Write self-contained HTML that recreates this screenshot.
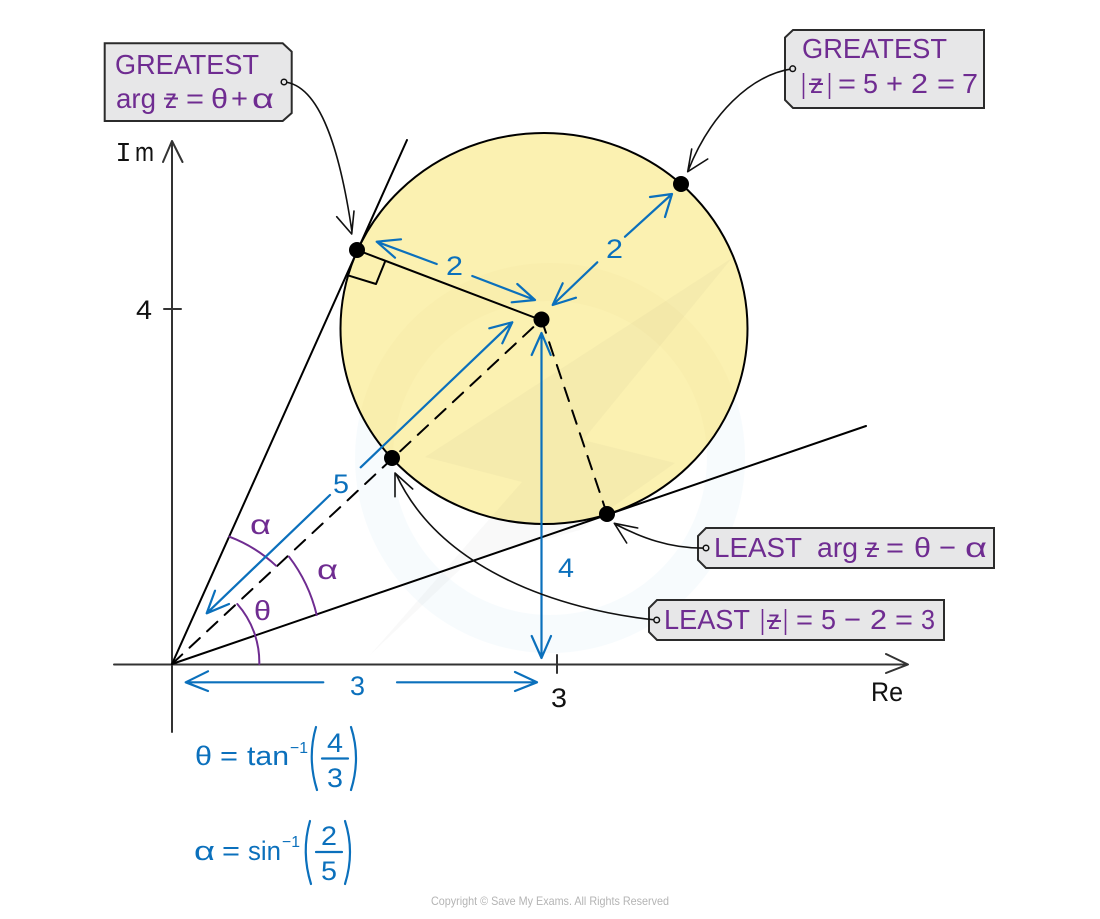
<!DOCTYPE html>
<html lang="en">
<head>
<meta charset="utf-8">
<title>Greatest and least modulus and argument</title>
<style>
html,body{margin:0;padding:0;background:#fff}
svg{display:block}
text{font-family:"Liberation Sans","DejaVu Sans",sans-serif}
.k{fill:#111;font-size:27px}
.p text,.p{fill:#6f2c91}
.b text,.b{fill:#0b70bc}
.p text{font-size:28px}
.b text{font-size:27px}
.tag{fill:#e7e7e8;stroke:#2b2b2b;stroke-width:2}
.ln{fill:none;stroke:#000;stroke-width:2;stroke-linecap:round;stroke-linejoin:round}
.th{fill:none;stroke:#111;stroke-width:1.6;stroke-linecap:round;stroke-linejoin:round}
.ax{fill:none;stroke:#333;stroke-width:2;stroke-linecap:round;stroke-linejoin:round}
.bl{fill:none;stroke:#0b70bc;stroke-width:2.2;stroke-linecap:round;stroke-linejoin:round}
.pu{fill:none;stroke:#6f2c91;stroke-width:2;stroke-linecap:round}
.st{stroke:#6f2c91;stroke-width:2;fill:none}
.h{fill:#e7e7e8;stroke:#111;stroke-width:1.5}
</style>
</head>
<body>
<svg width="1100" height="919" viewBox="0 0 1100 919" xmlns="http://www.w3.org/2000/svg">
<defs>
<clipPath id="inCircle"><ellipse cx="544" cy="328.500" rx="203.500" ry="195.500"/></clipPath>
</defs>
<rect width="1100" height="919" fill="#fff"/>

<!-- watermark below the circle -->
<path fill-rule="evenodd" fill="#cfe6f5" fill-opacity=".17" d="M550 263a195 195 0 1 0 .1 0zM550 301a157 157 0 1 1-.1 0z"/>

<!-- circle -->
<ellipse cx="544" cy="328.500" rx="203.500" ry="195.500" fill="#fbf1b1"/>

<!-- watermark over the circle -->
<path clip-path="url(#inCircle)" fill-rule="evenodd" fill="#b9a860" fill-opacity=".035" d="M550 263a195 195 0 1 0 .1 0zM550 301a157 157 0 1 1-.1 0z"/>
<path fill="#555" fill-opacity=".035" d="M425 457L732 258L583 440L675 463L580 530L470 560L370 655L522 482Z"/>

<ellipse cx="544" cy="328.500" rx="203.500" ry="195.500" fill="none" stroke="#000" stroke-width="2"/>

<!-- axes -->
<path class="ax" d="M172 732V141M163 162L172 141L182.500 162"/>
<path class="ax" d="M114 664.500H907M886 654L908 664.500L886 673"/>
<path class="ax" d="M164 309H181M557 655V673"/>

<!-- tangents and radii -->
<path class="ln" d="M172 664L407 140M172 664L866 426M357 250L541 320M385 261.700L376 284L349 275.700"/>
<path class="ln" stroke-dasharray="14 10" d="M172 664L541.500 319.500"/>
<path class="ln" stroke-dasharray="14 10" d="M541.500 319.500L607 514"/>

<!-- purple angle arcs -->
<path class="pu" d="M259.300 664A88 88 0 0 0 237.300 604M316.700 615A155 155 0 0 0 289 556.700M229.300 536.700A141 141 0 0 1 276 565.700"/>

<!-- blue arrows -->
<path class="bl" d="M436.700 264L376.700 241.700M401 239.300L376.700 241.700L395 257.700"/>
<path class="bl" d="M472.300 276L535 300M517.300 284L535 300L511.700 302.300"/>
<path class="bl" d="M597.300 262.300L552.700 305M562.700 283.300L552.700 305L576 297.700"/>
<path class="bl" d="M625 236.700L672 194M650 197L672 194L665 217"/>
<path class="bl" d="M360.700 467.300L512.300 322.300M489.300 328.300L512.300 322.300L502.300 343.300"/>
<path class="bl" d="M330 495L206.700 613.300M215 590.700L206.700 613.300L229 604"/>
<path class="bl" d="M541.500 658V333M531.700 355L541.500 333L550.700 355M531.700 636L541.500 658L551 636"/>
<path class="bl" d="M323.300 682.300H185.700M208 671.300L185.700 682.300L208 691"/>
<path class="bl" d="M397 682.300H537M515 672L537 682.300L515 691"/>

<!-- parentheses and fractions -->
<path class="bl" d="M316 727Q307 758 317 790M351 727Q361 758 351 790M322 758.500H348"/>
<path class="bl" d="M310 821Q301 852 311 884M345 821Q355 852 345 884M316 852H342"/>

<!-- tags -->
<path class="tag" d="M104.700 43.300H282.700L291.700 51.700V113L282.700 121H104.700Z"/>
<path class="tag" d="M793 30H984V108H793L785 100V37.500Z"/>
<path class="tag" d="M706 528H994V568H706L698 560V536Z"/>
<path class="tag" d="M657 600H944V640H657L649 632V608Z"/>

<!-- connectors -->
<path class="th" d="M284 82C320 85 340 150 352 232M336.700 216.700L351.700 234L354 211"/>
<path class="th" d="M792.700 68.700C750 75 710 115 688 171M691.700 149L687.700 171.700L707.700 159"/>
<path class="th" d="M706 548C670 549 640 537 615 524M637.700 528L614.300 523.300L626.700 543"/>
<path class="th" d="M656 620C560 610 440 570 396 474M412.700 489L395 473L395 496.700"/>
<circle class="h" cx="284" cy="82" r="2.800"/>
<circle class="h" cx="792.700" cy="68.700" r="2.800"/>
<circle class="h" cx="706" cy="548" r="2.800"/>
<circle class="h" cx="656.700" cy="620" r="2.800"/>

<!-- points -->
<circle cx="357" cy="250" r="8"/>
<circle cx="681" cy="184" r="8"/>
<circle cx="541.500" cy="319.500" r="8"/>
<circle cx="392" cy="458" r="8"/>
<circle cx="607" cy="514" r="8"/>

<!-- black labels -->
<text class="k" x="115.500" y="161" textLength="16" lengthAdjust="spacingAndGlyphs" style="font-family:'Liberation Mono',monospace">I</text>
<text class="k" x="135" y="161" textLength="19" lengthAdjust="spacingAndGlyphs">m</text>
<text class="k" x="136" y="319" textLength="16" lengthAdjust="spacingAndGlyphs">4</text>
<text class="k" x="551" y="707" textLength="16" lengthAdjust="spacingAndGlyphs">3</text>
<text class="k" x="871" y="701" textLength="32" lengthAdjust="spacingAndGlyphs">Re</text>

<!-- purple tag text -->
<g class="p">
<text x="115" y="74" textLength="144" lengthAdjust="spacingAndGlyphs">GREATEST</text>
<text x="116" y="108" textLength="40" lengthAdjust="spacingAndGlyphs">arg</text>
<text x="165" y="108" textLength="12" lengthAdjust="spacingAndGlyphs">z</text>
<text x="186" y="108" textLength="18" lengthAdjust="spacingAndGlyphs">=</text>
<text x="211" y="108" textLength="17" lengthAdjust="spacingAndGlyphs">θ</text>
<text x="231" y="108" textLength="17" lengthAdjust="spacingAndGlyphs">+</text>
<text x="252" y="108" textLength="22" lengthAdjust="spacingAndGlyphs">α</text>

<text x="802" y="58" textLength="145" lengthAdjust="spacingAndGlyphs">GREATEST</text>
<text x="801" y="93" textLength="5" lengthAdjust="spacingAndGlyphs">|</text>
<text x="810" y="93" textLength="13" lengthAdjust="spacingAndGlyphs">z</text>
<text x="827" y="93" textLength="5" lengthAdjust="spacingAndGlyphs">|</text>
<text x="838" y="93" textLength="18" lengthAdjust="spacingAndGlyphs">=</text>
<text x="863" y="93" textLength="15" lengthAdjust="spacingAndGlyphs">5</text>
<text x="886" y="93" textLength="17" lengthAdjust="spacingAndGlyphs">+</text>
<text x="911" y="93" textLength="17" lengthAdjust="spacingAndGlyphs">2</text>
<text x="937" y="93" textLength="18" lengthAdjust="spacingAndGlyphs">=</text>
<text x="962" y="93" textLength="16" lengthAdjust="spacingAndGlyphs">7</text>

<text x="714" y="557" textLength="88" lengthAdjust="spacingAndGlyphs">LEAST</text>
<text x="817" y="557" textLength="41" lengthAdjust="spacingAndGlyphs">arg</text>
<text x="866" y="557" textLength="12" lengthAdjust="spacingAndGlyphs">z</text>
<text x="886" y="557" textLength="18" lengthAdjust="spacingAndGlyphs">=</text>
<text x="914" y="557" textLength="17" lengthAdjust="spacingAndGlyphs">θ</text>
<text x="939" y="557" textLength="17" lengthAdjust="spacingAndGlyphs">−</text>
<text x="965" y="557" textLength="22" lengthAdjust="spacingAndGlyphs">α</text>

<text x="664" y="629" textLength="86" lengthAdjust="spacingAndGlyphs">LEAST</text>
<text x="760" y="629" textLength="5" lengthAdjust="spacingAndGlyphs">|</text>
<text x="768" y="629" textLength="12" lengthAdjust="spacingAndGlyphs">z</text>
<text x="783" y="629" textLength="5" lengthAdjust="spacingAndGlyphs">|</text>
<text x="796" y="629" textLength="17" lengthAdjust="spacingAndGlyphs">=</text>
<text x="821" y="629" textLength="15" lengthAdjust="spacingAndGlyphs">5</text>
<text x="844" y="629" textLength="17" lengthAdjust="spacingAndGlyphs">−</text>
<text x="870" y="629" textLength="17" lengthAdjust="spacingAndGlyphs">2</text>
<text x="895" y="629" textLength="18" lengthAdjust="spacingAndGlyphs">=</text>
<text x="921" y="629" textLength="14" lengthAdjust="spacingAndGlyphs">3</text>

<text x="250" y="534" textLength="21" lengthAdjust="spacingAndGlyphs">α</text>
<text x="317" y="579" textLength="21" lengthAdjust="spacingAndGlyphs">α</text>
<text x="254" y="620" textLength="17" lengthAdjust="spacingAndGlyphs">θ</text>
</g>
<path class="st" d="M164 98.500H178M809 84H823M865 549H879M767 621H781"/>

<!-- blue text -->
<g class="b">
<text x="446" y="275" textLength="17" lengthAdjust="spacingAndGlyphs">2</text>
<text x="606" y="258" textLength="17" lengthAdjust="spacingAndGlyphs">2</text>
<text x="333" y="493" textLength="16" lengthAdjust="spacingAndGlyphs">5</text>
<text x="558" y="577" textLength="16" lengthAdjust="spacingAndGlyphs">4</text>
<text x="350" y="695" textLength="15" lengthAdjust="spacingAndGlyphs">3</text>

<text x="195" y="765" textLength="17" lengthAdjust="spacingAndGlyphs">θ</text>
<text x="220" y="765" textLength="18" lengthAdjust="spacingAndGlyphs">=</text>
<text x="247" y="765" textLength="42" lengthAdjust="spacingAndGlyphs">tan</text>
<text x="290" y="753" style="font-size:16px" textLength="18" lengthAdjust="spacingAndGlyphs">−1</text>
<text x="327" y="752" textLength="16" lengthAdjust="spacingAndGlyphs">4</text>
<text x="327" y="787" textLength="16" lengthAdjust="spacingAndGlyphs">3</text>

<text x="194" y="860" textLength="21" lengthAdjust="spacingAndGlyphs">α</text>
<text x="222" y="860" textLength="18" lengthAdjust="spacingAndGlyphs">=</text>
<text x="248" y="860" textLength="33" lengthAdjust="spacingAndGlyphs">sin</text>
<text x="282" y="847" style="font-size:16px" textLength="18" lengthAdjust="spacingAndGlyphs">−1</text>
<text x="321" y="845" textLength="16" lengthAdjust="spacingAndGlyphs">2</text>
<text x="321" y="880" textLength="16" lengthAdjust="spacingAndGlyphs">5</text>
</g>

<text x="431" y="905" fill="#b4b4b4" style="font-size:12px" textLength="238" lengthAdjust="spacingAndGlyphs">Copyright © Save My Exams. All Rights Reserved</text>
</svg>
</body>
</html>
